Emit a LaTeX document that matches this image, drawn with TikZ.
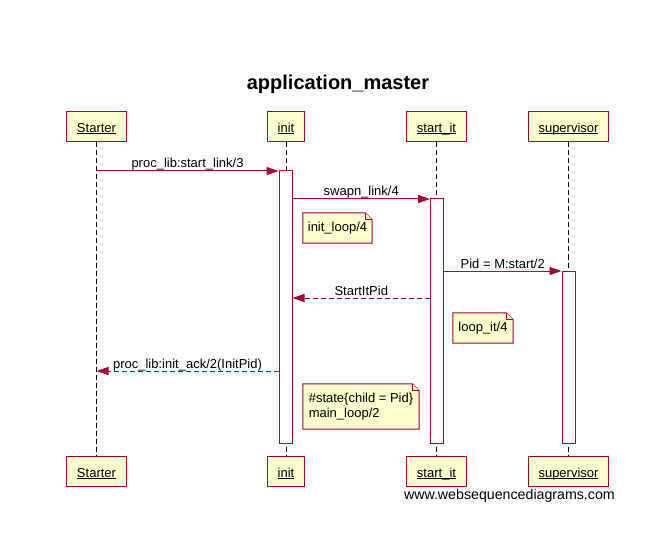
\documentclass[tikz,border=0pt]{standalone}
\usepackage{fontspec}
\setmainfont{Liberation Sans}
\usetikzlibrary{arrows.meta,calc,backgrounds}
\definecolor{umlred}{HTML}{A80036}
\definecolor{umlfill}{HTML}{FEFECE}
\newcommand{\ulabel}[1]{\setbox0\hbox{#1}\rlap{\rule[-1.6pt]{\wd0}{0.8pt}}\box0}
\newcommand{\notepath}[1]{%
  \begin{scope}[on background layer]
  \filldraw[noteline] (#1.north west) -- ($(#1.north east)+(-7pt,0pt)$) -- ($(#1.north east)+(0pt,-7pt)$) -- (#1.south east) -- (#1.south west) -- cycle;
  \draw[noteline] ($(#1.north east)+(-7pt,0pt)$) -- ($(#1.north east)+(-7pt,-7pt)$) -- ($(#1.north east)+(0pt,-7pt)$);
  \end{scope}}
\begin{document}
\begin{tikzpicture}[x=1pt,y=-1pt,
  part/.style={draw=umlred, fill=umlfill, line width=1pt, inner xsep=10.5pt, inner ysep=0pt, minimum height=30pt, text height=12pt, text depth=1pt, font=\fontsize{13}{15}\selectfont},
  lifeline/.style={draw=black, line width=1pt, dash pattern=on 5pt off 3pt},
  actbar/.style={draw=umlred, fill=white, line width=1pt, minimum width=13pt, inner sep=0pt},
  msg/.style={draw=umlred, line width=1pt, -{Triangle[length=12pt,width=8pt]}},
  reply/.style={msg, dash pattern=on 5pt off 3pt},
  lbl/.style={font=\fontsize{13}{15}\selectfont, anchor=base, yshift=3pt, midway, text=black},
  notebox/.style={inner sep=0pt, font=\fontsize{13}{15}\selectfont},
  noteline/.style={draw=umlred, fill=umlfill, line width=1pt},
]
\useasboundingbox (0,0) rectangle (672,548);

\node[font=\bfseries\fontsize{20}{24}\selectfont] (title) at (338,84) {application\_master};

% participants
\node[part] (pStarter) at (96.5,127) {\ulabel{Starter}};
\node[part] (pInit) at (286,127) {\ulabel{init}};
\node[part] (pStart) at (436.5,127) {\ulabel{start\_it}};
\node[part] (pSup) at (568.5,127) {\ulabel{supervisor}};

\node[part] (bStarter) at (96.5,471.5) {\ulabel{Starter}};
\node[part] (bInit) at (286,471.5) {\ulabel{init}};
\node[part] (bStart) at (436.5,471.5) {\ulabel{start\_it}};
\node[part] (bSup) at (568.5,471.5) {\ulabel{supervisor}};

% lifelines
\draw[lifeline] (pStarter.south) -- (bStarter.north);
\draw[lifeline] (pInit.south) -- (bInit.north);
\draw[lifeline] (pStart.south) -- (bStart.north);
\draw[lifeline] (pSup.south) -- (bSup.north);

% activations
\node[actbar, minimum height=272pt] (actI) at (285.5,307) {};
\node[actbar, minimum height=244pt] (actS) at (437,321) {};
\node[actbar, minimum height=172pt] (actV) at (568.5,357) {};

% message rows
\coordinate (y1) at (0,171);
\coordinate (y2) at (0,199);
\coordinate (y3) at (0,271);
\coordinate (y4) at (0,298);
\coordinate (y5) at (0,371);

\draw[msg] (pStarter |- y1) -- (actI.west |- y1) node[lbl] {proc\_lib:start\_link/3};
\draw[msg] (actI.east |- y2) -- (actS.west |- y2) node[lbl] {swapn\_link/4};
\draw[msg] (actS.east |- y3) -- (actV.west |- y3) node[lbl] {Pid = M:start/2};
\draw[reply] (actS.west |- y4) -- (actI.east |- y4) node[lbl] {StartItPid};
\draw[reply] (actI.west |- y5) -- (pStarter |- y5) node[lbl] {proc\_lib:init\_ack/2(InitPid)};

% notes
\node[notebox, minimum width=69pt, minimum height=30pt] (n1) at (337.5,228) {init\_loop/4};
\notepath{n1}
\node[notebox, minimum width=60pt, minimum height=30pt] (n2) at (483,328) {loop\_it/4};
\notepath{n2}
\node[notebox, minimum width=116pt, minimum height=45pt, align=left] (n3) at (361,406.5) {\#state\{child = Pid\}\\main\_loop/2};
\notepath{n3}

\node[font=\fontsize{14.2}{16}\selectfont, anchor=base east, inner sep=0pt] (footer) at (615,499) {www.websequencediagrams.com};
\end{tikzpicture}
\end{document}
